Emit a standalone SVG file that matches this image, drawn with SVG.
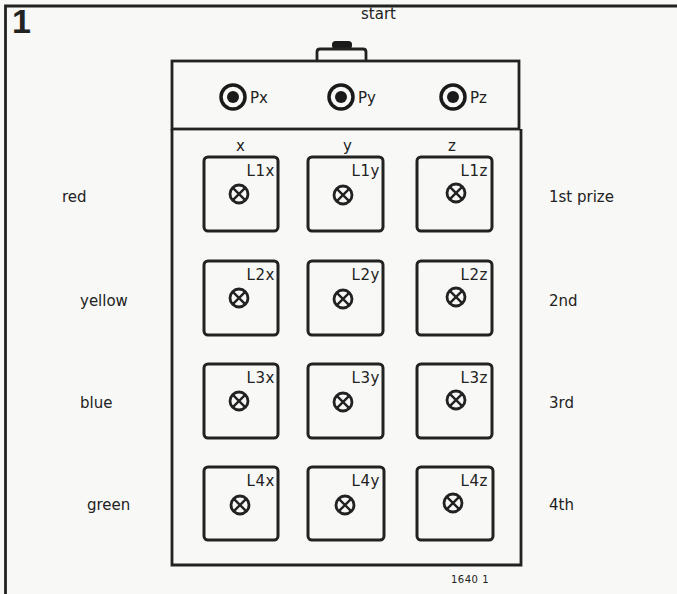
<svg xmlns="http://www.w3.org/2000/svg" width="677" height="594" viewBox="0 0 677 594">
<style>
.t{font-family:"DejaVu Sans",sans-serif;font-size:15px;fill:#222}
.lab{font-family:"DejaVu Sans",sans-serif;font-size:15px;fill:#222;text-anchor:end;letter-spacing:0.6px}
.ln{fill:none;stroke:#222;stroke-width:2.8}
.box{fill:none;stroke:#222;stroke-width:3}
.pad{fill:none;stroke:#1a1a1a;stroke-width:3.5}
.dot{fill:#1a1a1a}
</style>
<defs>
<g id="bulb">
<circle r="9" fill="none" stroke="#222" stroke-width="2.8"/>
<path d="M-6.4,-6.4 L6.4,6.4 M6.4,-6.4 L-6.4,6.4" stroke="#222" stroke-width="2.4"/>
</g>
</defs>
<rect width="677" height="594" fill="#f8f8f6"/>
<path d="M5.5,594 V6 H677" class="ln" stroke-width="2"/>
<text x="12" y="33" font-family="Liberation Sans,Arial,sans-serif" font-weight="bold" font-size="34" fill="#222">1</text>

<g id="start-button">
<rect x="332" y="41" width="20" height="8" rx="3.5" fill="#1a1a1a"/>
<path d="M317,61 V52 Q317,49 320,49 H363 Q366,49 366,52 V61" class="ln" stroke-width="2"/>
<text class="t" x="361" y="19">start</text>
</g>

<g id="top-panel">
<rect x="172" y="61" width="347" height="68" class="ln"/>
</g>
<g id="lamp-panel">
<path d="M172,129 V565 H521 V129" class="ln"/>
</g>

<g id="Px"><circle cx="233" cy="97" r="12" class="pad"/><circle cx="233" cy="97" r="6" class="dot"/><text class="t" x="250" y="103">Px</text></g>
<g id="Py"><circle cx="341" cy="97" r="12" class="pad"/><circle cx="341" cy="97" r="6" class="dot"/><text class="t" x="358" y="103">Py</text></g>
<g id="Pz"><circle cx="453" cy="97" r="12" class="pad"/><circle cx="453" cy="97" r="6" class="dot"/><text class="t" x="470" y="103">Pz</text></g>

<g id="column-labels">
<text class="t" x="236" y="151">x</text>
<text class="t" x="343" y="151">y</text>
<text class="t" x="448" y="151">z</text>
</g>

<g id="L1x" transform="translate(204,157)"><rect width="74" height="74" rx="4" class="box"/><use href="#bulb" x="35" y="37"/><text class="lab" x="71" y="19">L1x</text></g>
<g id="L1y" transform="translate(308,157)"><rect width="75" height="74" rx="4" class="box"/><use href="#bulb" x="35" y="38"/><text class="lab" x="72" y="19">L1y</text></g>
<g id="L1z" transform="translate(417,157)"><rect width="75" height="74" rx="4" class="box"/><use href="#bulb" x="39" y="36"/><text class="lab" x="71" y="19">L1z</text></g>

<g id="L2x" transform="translate(204,261)"><rect width="74" height="74" rx="4" class="box"/><use href="#bulb" x="35" y="37"/><text class="lab" x="71" y="19">L2x</text></g>
<g id="L2y" transform="translate(308,261)"><rect width="75" height="74" rx="4" class="box"/><use href="#bulb" x="35" y="38"/><text class="lab" x="72" y="19">L2y</text></g>
<g id="L2z" transform="translate(417,261)"><rect width="75" height="74" rx="4" class="box"/><use href="#bulb" x="39" y="36"/><text class="lab" x="71" y="19">L2z</text></g>

<g id="L3x" transform="translate(204,364)"><rect width="74" height="74" rx="4" class="box"/><use href="#bulb" x="35" y="37"/><text class="lab" x="71" y="19">L3x</text></g>
<g id="L3y" transform="translate(308,364)"><rect width="75" height="74" rx="4" class="box"/><use href="#bulb" x="35" y="38"/><text class="lab" x="72" y="19">L3y</text></g>
<g id="L3z" transform="translate(417,364)"><rect width="75" height="74" rx="4" class="box"/><use href="#bulb" x="39" y="36"/><text class="lab" x="71" y="19">L3z</text></g>

<g id="L4x" transform="translate(204,467)"><rect width="74" height="73" rx="4" class="box"/><use href="#bulb" x="36" y="38"/><text class="lab" x="71" y="19">L4x</text></g>
<g id="L4y" transform="translate(308,467)"><rect width="76" height="73" rx="4" class="box"/><use href="#bulb" x="37" y="38"/><text class="lab" x="72" y="19">L4y</text></g>
<g id="L4z" transform="translate(417,467)"><rect width="76" height="73" rx="4" class="box"/><use href="#bulb" x="36" y="36"/><text class="lab" x="71" y="19">L4z</text></g>

<g id="colour-labels">
<text class="t" x="62" y="202">red</text>
<text class="t" x="80" y="306">yellow</text>
<text class="t" x="80" y="408">blue</text>
<text class="t" x="87" y="510">green</text>
</g>
<g id="prize-labels">
<text class="t" x="549" y="202">1st prize</text>
<text class="t" x="549" y="306">2nd</text>
<text class="t" x="549" y="408">3rd</text>
<text class="t" x="549" y="510">4th</text>
</g>
<g id="connectors"/>
<text x="451" y="583" font-family="DejaVu Sans,sans-serif" font-size="10" letter-spacing="0.5" fill="#222">1640 1</text>
</svg>
